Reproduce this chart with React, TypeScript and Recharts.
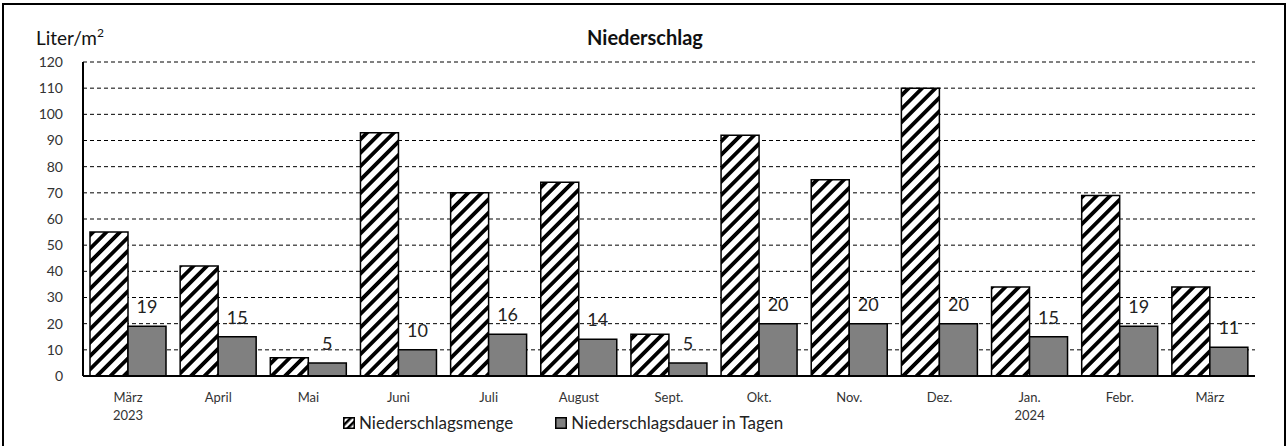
import { Bar, BarChart, CartesianGrid, LabelList, XAxis, YAxis } from "recharts"

const months = ["März\n2023", "April", "Mai", "Juni", "Juli", "August", "Sept.", "Okt.", "Nov.", "Dez.", "Jan.\n2024", "Febr.", "März"]
const menge = [55, 42, 7, 93, 70, 74, 16, 92, 75, 110, 34, 69, 34]
const dauer = [19, 15, 5, 10, 16, 14, 5, 20, 20, 20, 15, 19, 11]
const yTicks = [0, 10, 20, 30, 40, 50, 60, 70, 80, 90, 100, 110, 120]
const seriesNames = ["Niederschlagsmenge", "Niederschlagsdauer in Tagen"]

const data = months.map((m, i) => ({ month: m, menge: menge[i], dauer: dauer[i] }))

const font = "Lato, 'Noto Sans', sans-serif"

function MonthTick(props: any) {
  const { x, y, payload } = props
  const lines = String(payload.value).split("\n")
  return (
    <text x={x} y={y} textAnchor="middle" fontSize={13} fill="#333" fontFamily={font}>
      {lines.map((l, i) => (
        <tspan key={i} x={x} dy={18}>
          {l}
        </tspan>
      ))}
    </text>
  )
}

function HatchSwatch() {
  return (
    <svg width={12} height={12} style={{ marginRight: 4 }}>
      <defs>
        <pattern id="hatchSmall" patternUnits="userSpaceOnUse" width={5} height={5} patternTransform="rotate(45)">
          <rect width={5} height={5} fill="#fff" />
          <rect width={2.5} height={5} fill="#000" />
        </pattern>
      </defs>
      <rect x={0.75} y={0.75} width={10.5} height={10.5} fill="url(#hatchSmall)" stroke="#000" strokeWidth={1.5} />
    </svg>
  )
}

function GraySwatch() {
  return (
    <svg width={12} height={12} style={{ marginRight: 4 }}>
      <rect x={0.75} y={0.75} width={10.5} height={10.5} fill="#808080" stroke="#000" strokeWidth={1.5} />
    </svg>
  )
}

export default function App() {
  return (
    <div style={{ position: "fixed", left: 0, top: 0, width: 1288, height: 446, background: "#fff", overflow: "hidden", fontFamily: font }}>
      <div style={{ position: "absolute", left: 2, top: 3, width: 1280, height: 470, border: "2px solid #000" }} />

      <div style={{ position: "absolute", left: 0, width: 1290, top: 25, textAlign: "center", fontWeight: 700, fontSize: 20, color: "#111" }}>
        Niederschlag
      </div>
      <div style={{ position: "absolute", left: 36, top: 26, fontSize: 19, color: "#111" }}>
        Liter/m<sup style={{ fontSize: 12, verticalAlign: "8px", lineHeight: 0 }}>2</sup>
      </div>

      <div style={{ position: "absolute", left: 0, top: 0 }}>
        <BarChart
          width={1288}
          height={446}
          data={data}
          margin={{ top: 62, right: 33, bottom: 0, left: 0 }}
          barCategoryGap={7}
          barGap={0}
        >
          <defs>
            <pattern id="hatch" patternUnits="userSpaceOnUse" width={9.5} height={9.5} patternTransform="rotate(45)">
              <rect width={9.5} height={9.5} fill="#fff" />
              <rect width={3.8} height={9.5} fill="#000" />
            </pattern>
          </defs>
          <CartesianGrid horizontal vertical={false} stroke="#000" strokeDasharray="4 3" strokeWidth={1} />
          <XAxis
            dataKey="month"
            interval={0}
            tick={<MonthTick />}
            tickLine={false}
            axisLine={{ stroke: "#000", strokeWidth: 2 }}
            height={70}
          />
          <YAxis
            domain={[0, 120]}
            ticks={yTicks}
            interval={0}
            width={83}
            tickLine={false}
            tickMargin={14}
            axisLine={{ stroke: "#000", strokeWidth: 2 }}
            tick={{ fontSize: 14, fill: "#333", fontFamily: font }}
          />
          <Bar dataKey="menge" name={seriesNames[0]} fill="url(#hatch)" stroke="#000" strokeWidth={1.5} isAnimationActive={false} />
          <Bar dataKey="dauer" name={seriesNames[1]} fill="#808080" stroke="#000" strokeWidth={1.5} isAnimationActive={false}>
            <LabelList dataKey="dauer" position="top" offset={13} fontSize={18} fill="#222" fontFamily={font} />
          </Bar>
        </BarChart>
      </div>

      <div style={{ position: "absolute", left: 343, top: 412, display: "flex", alignItems: "center", fontSize: 17, color: "#222" }}>
        <HatchSwatch />
        <span>{seriesNames[0]}</span>
        <span style={{ width: 42 }} />
        <GraySwatch />
        <span>{seriesNames[1]}</span>
      </div>
    </div>
  )
}
